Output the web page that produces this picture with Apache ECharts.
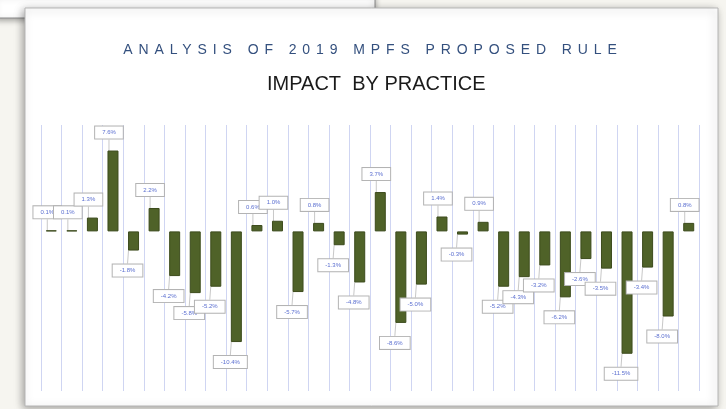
<!DOCTYPE html>
<html>
<head>
<meta charset="utf-8">
<script src="https://cdn.jsdelivr.net/npm/echarts@6/dist/echarts.min.js"></script>
<style>
html,body{margin:0;padding:0;background:#f6f5f0;}
#chart{width:726px;height:409px;}
#t1{position:absolute;left:0;top:41px;width:746px;text-align:center;font-family:"Liberation Sans",Arial,sans-serif;font-size:14px;letter-spacing:5.9px;color:#34507e;}
</style>
</head>
<body>
<div id="chart"></div>
<div id="t1">ANALYSIS OF 2019 MPFS PROPOSED RULE</div>
<script>
const subtitle = 'IMPACT  BY PRACTICE';
const practices = ['P1','P2','P3','P4','P5','P6','P7','P8','P9','P10','P11','P12','P13','P14','P15','P16',
  'P17','P18','P19','P20','P21','P22','P23','P24','P25','P26','P27','P28','P29','P30','P31','P32'];
const impactPct = [0.1, 0.1, 1.3, 7.6, -1.8, 2.2, -4.2, -5.8, -5.2, -10.4, 0.6, 1.0, -5.7, 0.8, -1.3, -4.8,
  3.7, -8.6, -5.0, 1.4, -0.3, 0.9, -5.2, -4.3, -3.2, -6.2, -2.6, -3.5, -11.5, -3.4, -8.0, 0.8];

const chart = echarts.init(document.getElementById('chart'));
const data = impactPct.map(v => ({
  value: v,
  label: { position: v >= 0 ? 'top' : 'bottom' }
}));
chart.setOption({
  animation: false,
  graphic: [
    { type: 'rect', shape: { x: -5, y: -5, width: 380, height: 23 }, style: { fill: '#ffffff', stroke: '#8a8a8a', lineWidth: 1, shadowBlur: 6, shadowColor: 'rgba(0,0,0,0.35)', shadowOffsetY: 2 }, z: -10 },
    { type: 'rect', shape: { x: 25, y: 8, width: 693, height: 398 }, style: { fill: '#ffffff', stroke: '#b5b5b5', lineWidth: 1, shadowBlur: 8, shadowColor: 'rgba(0,0,0,0.35)', shadowOffsetX: -2, shadowOffsetY: 2 }, z: -9 }
  ],
  title: {
    text: subtitle,
    left: 262,
    top: 69,
    textStyle: { fontFamily: 'Liberation Sans', fontSize: 20, fontWeight: 'normal', color: '#1a1a1a' }
  },
  grid: { left: 41, right: 27, top: 125, bottom: 18 },
  xAxis: {
    type: 'category',
    data: practices,
    axisLine: { show: false },
    axisTick: { show: false },
    axisLabel: { show: false },
    splitLine: { show: true, interval: 0, lineStyle: { color: '#cfd5f2', width: 1 } }
  },
  yAxis: {
    type: 'value',
    min: -15, max: 10,
    show: false,
    splitLine: { show: false }
  },
  series: [{
    type: 'bar',
    data: data,
    barWidth: 11,
    itemStyle: { color: '#4f6228', borderColor: '#3c4b1c', borderWidth: 1 },
    label: {
      show: true,
      formatter: p => p.value.toFixed(1) + '%',
      fontSize: 6,
      fontFamily: 'Liberation Sans',
      color: '#5b6fd0',
      backgroundColor: '#ffffff',
      borderColor: '#b3b3b3',
      borderWidth: 1,
      padding: [3, 7],
      distance: 8
    },
    labelLine: { show: true, lineStyle: { color: '#c8c8c8', width: 1 } },
    labelLayout: function (p) {
      const v = impactPct[p.dataIndex];
      return v >= 0 ? { dx: -4, dy: -4 } : { dx: -6, dy: 6 };
    }
  }]
});
</script>
</body>
</html>
